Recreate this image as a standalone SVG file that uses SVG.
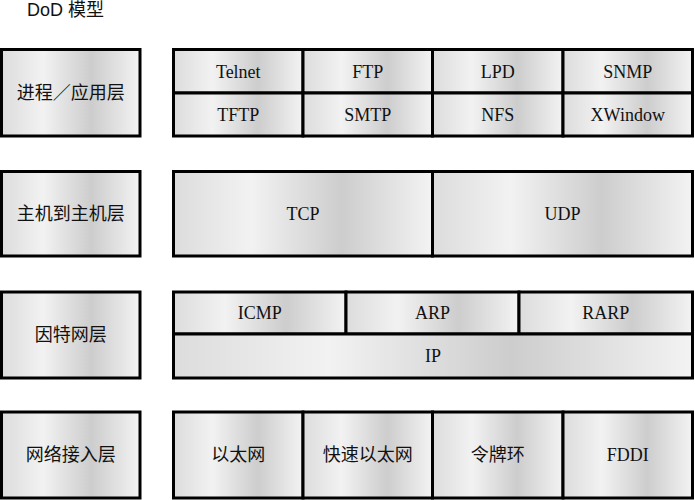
<svg xmlns="http://www.w3.org/2000/svg" width="695" height="500" viewBox="0 0 695 500">
<defs>
<linearGradient id="g" x1="0" y1="0" x2="1" y2="0">
<stop offset="0" stop-color="#dcdcdc"/>
<stop offset="0.3" stop-color="#f2f2f2"/>
<stop offset="0.65" stop-color="#cdcdcd"/>
<stop offset="1" stop-color="#f3f3f3"/>
</linearGradient>
</defs>
<style>
rect{fill:url(#g);stroke:#000;stroke-width:3}
text{font-family:"Liberation Serif","Times New Roman","DejaVu Serif","Noto Sans CJK SC",serif;font-size:18px;fill:#111;text-anchor:middle;dominant-baseline:central}
.t{font-family:"Liberation Sans",Arial,"Noto Sans CJK SC",sans-serif;font-size:18px;text-anchor:start;dominant-baseline:auto}
</style>
<rect width="695" height="500" style="fill:#fff;stroke:none"/>
<text class="t" x="27" y="16">DoD 模型</text>
<g id="layer-app">
<rect x="1.5" y="49.5" width="138.5" height="86.5"/>
<text x="70.75" y="93">进程／应用层</text>
</g>
<g id="app-protocols">
<rect x="173.5" y="49.5" width="129.5" height="43.5"/><text x="238.25" y="71.5">Telnet</text>
<rect x="303" y="49.5" width="129.5" height="43.5"/><text x="367.75" y="71.5">FTP</text>
<rect x="432.5" y="49.5" width="130.5" height="43.5"/><text x="497.75" y="71.5">LPD</text>
<rect x="563" y="49.5" width="129.5" height="43.5"/><text x="627.75" y="71.5">SNMP</text>
<rect x="173.5" y="93" width="129.5" height="43"/><text x="238.25" y="114.5">TFTP</text>
<rect x="303" y="93" width="129.5" height="43"/><text x="367.75" y="114.5">SMTP</text>
<rect x="432.5" y="93" width="130.5" height="43"/><text x="497.75" y="114.5">NFS</text>
<rect x="563" y="93" width="129.5" height="43"/><text x="627.75" y="114.5">XWindow</text>
</g>
<g id="layer-host">
<rect x="1.5" y="171.5" width="138.5" height="84.5"/>
<text x="70.75" y="213.5">主机到主机层</text>
</g>
<g id="host-protocols">
<rect x="173.5" y="171.5" width="259" height="84.5"/><text x="303" y="213.5">TCP</text>
<rect x="432.5" y="171.5" width="260" height="84.5"/><text x="562.5" y="213.5">UDP</text>
</g>
<g id="layer-internet">
<rect x="1.5" y="292" width="138.5" height="86"/>
<text x="70.75" y="335">因特网层</text>
</g>
<g id="internet-protocols">
<rect x="173.5" y="292" width="172.5" height="42"/><text x="259.75" y="313">ICMP</text>
<rect x="346" y="292" width="173" height="42"/><text x="432.5" y="313">ARP</text>
<rect x="519" y="292" width="173.5" height="42"/><text x="605.75" y="313">RARP</text>
<rect x="173.5" y="334" width="519" height="44"/><text x="433" y="356">IP</text>
</g>
<g id="layer-network">
<rect x="1.5" y="412" width="138.5" height="86"/>
<text x="70.75" y="455">网络接入层</text>
</g>
<g id="network-protocols">
<rect x="173.5" y="412" width="129.5" height="86"/><text x="238.25" y="455">以太网</text>
<rect x="303" y="412" width="129.5" height="86"/><text x="367.75" y="455">快速以太网</text>
<rect x="432.5" y="412" width="130.5" height="86"/><text x="497.75" y="455">令牌环</text>
<rect x="563" y="412" width="129.5" height="86"/><text x="627.75" y="455">FDDI</text>
</g>
<g id="connectors"></g>
</svg>
